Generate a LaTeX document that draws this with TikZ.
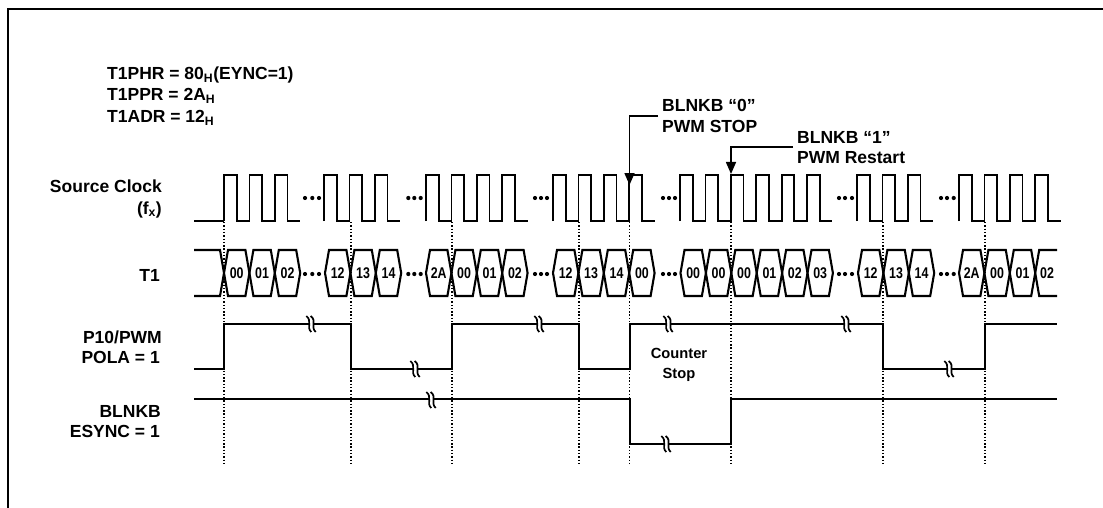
\documentclass[tikz,border=0pt]{standalone}
\usepackage{fontspec}
\setmainfont{Liberation Sans}
\usepackage{tikz}
\usetikzlibrary{arrows.meta}

\tikzset{
    sigline/.style={line width=2pt, line join=miter},
    clockline/.style={line width=1.8pt, line join=miter},
    hexline/.style={line width=2.1pt, line join=miter},
    guide/.style={line width=1.2pt, dash pattern=on 1.4pt off 1.9pt},
    callout/.style={line width=1.6pt, -{Triangle[length=12pt,width=10pt]}},
    sidelabel/.style={inner sep=0pt, font=\fontsize{17.5}{21}\selectfont\bfseries},
    noteLabel/.style={inner sep=0pt, font=\fontsize{14.7}{18}\selectfont\bfseries},
    hexlabel/.style={inner sep=0pt, xscale=0.8, transform shape, font=\fontsize{15.5}{16}\selectfont\bfseries}
}

\begin{document}
\begin{tikzpicture}[x=1pt, y=-1pt]

    \useasboundingbox (0,0) rectangle (1103,508);

    % frame, open on the right and at the bottom
    \draw[line width=1.8pt] (8,508) -- (8,9) -- (1103,9);

    % settings
    \node[sidelabel, anchor=base west] (phr) at (107,80) {T1PHR = 80\textsubscript{H}(EYNC=1)};
    \node[sidelabel, anchor=base west] (ppr) at (107,101) {T1PPR = 2A\textsubscript{H}};
    \node[sidelabel, anchor=base west] (adr) at (107,123) {T1ADR = 12\textsubscript{H}};

    % row names
    \node[sidelabel, anchor=base east] (clk) at (162,193) {Source Clock};
    \node[sidelabel, anchor=base east] (fx) at (162,214) {(f\textsubscript{x})};
    \node[sidelabel, anchor=base east] (tone) at (160,281) {T1};
    \node[sidelabel, anchor=base east] (pwm) at (162,343) {P10/PWM};
    \node[sidelabel, anchor=base east] (pola) at (160,363) {POLA = 1};
    \node[sidelabel, anchor=base east] (blnkb) at (161,417) {BLNKB};
    \node[sidelabel, anchor=base east] (esync) at (160,437) {ESYNC = 1};

    % dotted guides
    \foreach \x in {224, 351, 452, 579, 629.5, 731, 883, 985} {
        \draw[guide] (\x,222) -- (\x,463);
    }

    % source clock
    \draw[clockline] (194,221) -- (224,221);
    \foreach \s/\n in {224/3, 324/3, 426/4, 553/4, 680/6, 857/3, 959/4} {
        \draw[clockline] (\s,221) foreach \i in {1,...,\n} {
            -- ++(0,-46) -- ++(12.7,0) -- ++(0,46) -- ++(12.7,0)
        };
    }

    % dots between the groups
    \foreach \x in {305, 312.3, 319, 408.3, 414.3, 420.7, 535, 541, 547, 663, 669, 675, 839, 845, 852, 941, 947, 953.7} {
        \fill (\x,198) circle (2.1pt);
        \fill (\x,274) circle (2.1pt);
    }

    % T1 counter values
    \draw[hexline] (194,250) -- (220,250) -- (224,273) -- (220,296) -- (194,296);
    \foreach \x/\t [count=\i] in {224/00, 249.4/01, 274.8/02, 325/12, 350.4/13, 375.8/14,
        426/2A, 451.4/00, 476.8/01, 502.2/02, 553/12, 578.4/13, 603.8/14, 629.2/00,
        680.5/00, 705.9/00, 731.3/00, 756.7/01, 782.1/02, 807.5/03,
        858/12, 883.4/13, 908.8/14, 959/2A, 984.4/00, 1009.8/01} {
        \draw[hexline] (\x,273) -- (\x+4,250) -- (\x+21.4,250) -- (\x+25.4,273)
            -- (\x+21.4,296) -- (\x+4,296) -- cycle;
        \node[hexlabel] (val\i) at (\x+12.7,273.5) {\t};
    }
    \draw[hexline] (1057,250) -- (1039.2,250) -- (1035.2,273) -- (1039.2,296) -- (1057,296);
    \node[hexlabel] (vallast) at (1047,273.5) {02};

    % P10/PWM and BLNKB levels
    \draw[sigline] (194,369) -- (224,369) -- (224,324) -- (351,324) -- (351,369) -- (452,369)
        -- (452,324) -- (579,324) -- (579,369) -- (629.5,369) -- (629.5,324) -- (883,324)
        -- (883,369) -- (985,369) -- (985,324) -- (1057,324);
    \draw[sigline] (194,399) -- (629.5,399) -- (629.5,444) -- (731,444) -- (731,399) -- (1057,399);

    % break marks
    \foreach \x/\y in {311/324, 415/369, 431/400, 539/324, 668/324, 846/324, 949/369, 666/444} {
        \fill[white, shift={(\x,\y)}] (-2,-2) rectangle (2,2);
        \draw[shift={(\x-2.2,\y)}, line width=1.7pt] (-2.5,-8) .. controls (4,-3) and (-3,3) .. (2.5,8);
        \draw[shift={(\x+2.2,\y)}, line width=1.7pt] (-2.5,-8) .. controls (4,-3) and (-3,3) .. (2.5,8);
    }

    \node[noteLabel, anchor=base] (cnt) at (679,358) {Counter};
    \node[noteLabel, anchor=base] (stp) at (679,378) {Stop};

    % callouts
    \node[sidelabel, anchor=base west] (stopa) at (662,112) {BLNKB “0”};
    \node[sidelabel, anchor=base west] (stopb) at (662,133) {PWM STOP};
    \node[sidelabel, anchor=base west] (resta) at (797,144) {BLNKB “1”};
    \node[sidelabel, anchor=base west] (restb) at (797,164) {PWM Restart};

    \coordinate (stoptip) at (629.5,185);
    \coordinate (resttip) at (731,174);
    \draw[callout] (658,116) -| (stoptip);
    \draw[callout] (793,147) -| (resttip);

\end{tikzpicture}
\end{document}
